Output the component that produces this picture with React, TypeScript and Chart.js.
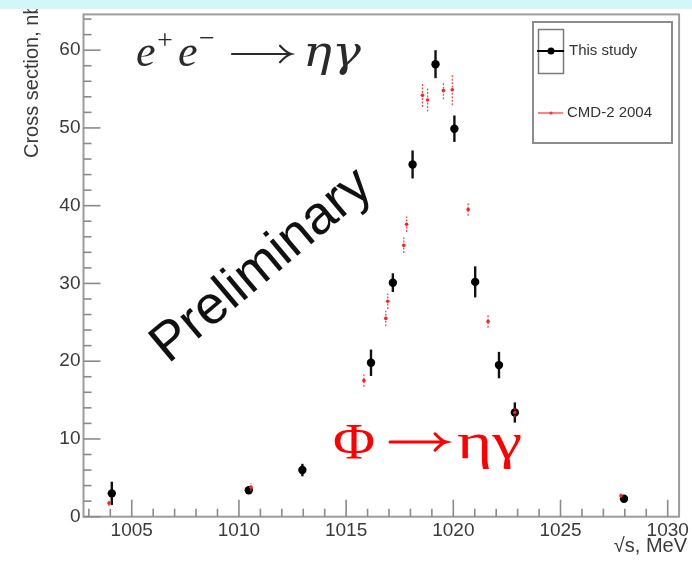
import React, { useEffect, useRef } from 'react';
import { Chart, registerables } from 'chart.js';

Chart.register(...registerables);

// ---- data ----
const studyEnergy = [1004.07, 1010.46, 1012.96, 1016.16, 1017.18, 1018.1, 1019.17, 1020.05, 1021.02, 1022.13, 1022.87, 1027.96];
const studyCross = [3.0, 3.4, 6.0, 19.8, 30.1, 45.3, 58.2, 49.9, 30.2, 19.5, 13.4, 2.3];
const studyErr = [1.5, 0.5, 0.8, 1.7, 1.2, 1.8, 1.8, 1.7, 2.0, 1.7, 1.3, 0.4];

const cmdEnergy = [1003.94, 1010.56, 1015.83, 1016.85, 1016.94, 1017.69, 1017.82, 1018.56, 1018.8, 1019.54, 1019.95, 1020.69, 1021.62, 1022.87, 1027.82];
const cmdCross = [1.75, 3.8, 17.5, 25.5, 27.7, 34.9, 37.6, 54.2, 53.6, 54.8, 54.9, 39.5, 25.1, 13.4, 2.7];
const cmdErr = [0.4, 0.5, 0.8, 1.0, 1.0, 1.0, 1.0, 1.5, 1.5, 1.1, 2.0, 0.8, 0.8, 0.6, 0.3];

const xTickValues = [1005, 1010, 1015, 1020, 1025, 1030];
const yTickValues = [0, 10, 20, 30, 40, 50, 60];
const xMinorStep = 1;
const yMinorStep = 2;
const xRange = [1002.75, 1030.53];
const yRange = [0, 64.6];
const legendLabels = ['This study', 'CMD-2 2004'];
const yTitle = 'Cross section, nb';
const xTitle = '\u221As, MeV';

const SANS = '"Liberation Sans", Arial, sans-serif';
const SERIF = '"Liberation Serif", "DejaVu Serif", serif';
const WSERIF = '"DejaVu Serif", "Liberation Serif", serif';

function drawArrow(ctx: CanvasRenderingContext2D, x1: number, x2: number, y: number, color: string, lw: number, head: number) {
  ctx.save();
  ctx.strokeStyle = color;
  ctx.lineWidth = lw;
  ctx.lineCap = 'round';
  ctx.beginPath();
  ctx.moveTo(x1, y);
  ctx.lineTo(x2, y);
  ctx.moveTo(x2 - head, y - head * 0.75);
  ctx.quadraticCurveTo(x2 - head * 0.4, y - head * 0.1, x2, y);
  ctx.quadraticCurveTo(x2 - head * 0.4, y + head * 0.1, x2 - head, y + head * 0.75);
  ctx.stroke();
  ctx.restore();
}

function stretchedText(ctx: CanvasRenderingContext2D, text: string, x: number, y: number, sx: number) {
  ctx.save();
  ctx.translate(x, y);
  ctx.scale(sx, 1);
  ctx.fillText(text, 0, 0);
  ctx.restore();
}

const errorBarPlugin = {
  id: 'errorBars',
  beforeDatasetDraw(chart: any, args: any) {
    const ds = chart.data.datasets[args.index];
    const errs: number[] = ds.errors;
    if (!errs) return;
    const ctx = chart.ctx;
    const xs = chart.scales.x;
    const ys = chart.scales.y;
    ctx.save();
    ctx.strokeStyle = ds.errColor;
    ctx.lineWidth = ds.errWidth;
    ctx.setLineDash(ds.errDash || []);
    ds.data.forEach((p: any, i: number) => {
      const px = xs.getPixelForValue(p.x);
      ctx.beginPath();
      ctx.moveTo(px, ys.getPixelForValue(p.y - errs[i]));
      ctx.lineTo(px, ys.getPixelForValue(p.y + errs[i]));
      ctx.stroke();
    });
    ctx.restore();
  },
};

const decorPlugin = {
  id: 'decor',
  beforeDatasetsDraw(chart: any) {
    const ctx: CanvasRenderingContext2D = chart.ctx;
    const a = chart.chartArea;
    const xs = chart.scales.x;
    const ys = chart.scales.y;
    ctx.save();
    // frame
    ctx.strokeStyle = '#9c9c9c';
    ctx.lineWidth = 2;
    ctx.strokeRect(a.left, a.top, a.right - a.left, a.bottom - a.top);
    // ticks (inward)
    ctx.strokeStyle = '#8a8a8a';
    ctx.lineWidth = 1.6;
    for (let v = Math.ceil(xRange[0]); v <= xRange[1]; v += xMinorStep) {
      const px = xs.getPixelForValue(v);
      const len = v % 5 === 0 ? 17 : 8;
      ctx.beginPath();
      ctx.moveTo(px, a.bottom);
      ctx.lineTo(px, a.bottom - len);
      ctx.stroke();
    }
    for (let v = yRange[0]; v <= yRange[1]; v += yMinorStep) {
      const py = ys.getPixelForValue(v);
      const len = v % 10 === 0 ? 17 : 8;
      ctx.beginPath();
      ctx.moveTo(a.left, py);
      ctx.lineTo(a.left + len, py);
      ctx.stroke();
    }
    // e+e- -> eta gamma
    ctx.fillStyle = '#2a2a2a';
    ctx.textBaseline = 'alphabetic';
    ctx.textAlign = 'left';
    ctx.font = `italic 44px ${SERIF}`;
    ctx.fillText('e', 136, 66);
    ctx.font = `28px ${SERIF}`;
    ctx.fillText('+', 157, 49);
    ctx.font = `italic 44px ${SERIF}`;
    ctx.fillText('e', 178, 66);
    ctx.font = `28px ${SERIF}`;
    ctx.fillText('\u2212', 199, 47);
    drawArrow(ctx, 232, 291, 54, '#2a2a2a', 2.2, 11);
    ctx.font = `italic 42px ${WSERIF}`;
    stretchedText(ctx, '\u03B7\u03B3', 303, 66, 1.15);

    // Preliminary
    ctx.save();
    ctx.translate(262, 266);
    ctx.rotate(-40 * Math.PI / 180);
    ctx.font = `54px ${SANS}`;
    ctx.fillStyle = '#111';
    ctx.textAlign = 'center';
    ctx.textBaseline = 'middle';
    ctx.fillText('Preliminary', 0, 0);
    ctx.restore();

    // Phi -> eta gamma
    ctx.fillStyle = '#ff0000';
    ctx.font = `50px ${SERIF}`;
    ctx.textAlign = 'left';
    stretchedText(ctx, '\u03A6', 333, 458, 1.15);
    drawArrow(ctx, 390, 446, 442, '#ff0000', 3, 11);
    stretchedText(ctx, '\u03B7\u03B3', 457, 458, 1.35);

    // axis titles
    ctx.fillStyle = '#3a3a3a';
    ctx.font = `20px ${SANS}`;
    ctx.save();
    ctx.translate(32, 158);
    ctx.rotate(-Math.PI / 2);
    ctx.textBaseline = 'middle';
    ctx.textAlign = 'left';
    ctx.fillText(yTitle, 0, 0);
    ctx.restore();
    ctx.textAlign = 'right';
    ctx.textBaseline = 'alphabetic';
    ctx.fillText(xTitle, 687, 552);
    ctx.restore();
  },
  afterDraw(chart: any) {
    const ctx: CanvasRenderingContext2D = chart.ctx;
    ctx.save();
    // legend
    ctx.fillStyle = '#fff';
    ctx.fillRect(533, 22, 139, 121);
    ctx.strokeStyle = '#8c8c8c';
    ctx.lineWidth = 2;
    ctx.strokeRect(533, 22, 139, 121);
    ctx.strokeStyle = '#7a7a7a';
    ctx.lineWidth = 1.5;
    ctx.strokeRect(538.5, 29.5, 25, 44);
    ctx.strokeStyle = '#000';
    ctx.lineWidth = 2;
    ctx.beginPath();
    ctx.moveTo(537, 51);
    ctx.lineTo(564, 51);
    ctx.stroke();
    ctx.fillStyle = '#000';
    ctx.beginPath();
    ctx.arc(551, 51, 3.5, 0, Math.PI * 2);
    ctx.fill();
    ctx.strokeStyle = '#ff3030';
    ctx.lineWidth = 1.2;
    ctx.beginPath();
    ctx.moveTo(538, 113);
    ctx.lineTo(563, 113);
    ctx.stroke();
    ctx.fillStyle = '#ff3030';
    ctx.beginPath();
    ctx.arc(551, 113, 1.6, 0, Math.PI * 2);
    ctx.fill();
    ctx.fillStyle = '#333';
    ctx.font = `15px ${SANS}`;
    ctx.textAlign = 'left';
    ctx.textBaseline = 'middle';
    ctx.fillText(legendLabels[0], 569, 51);
    ctx.fillText(legendLabels[1], 567, 113);
    // top band
    ctx.fillStyle = '#d2f7f9';
    ctx.fillRect(0, 0, 692, 9);
    ctx.restore();
  },
};

export default function App() {
  const ref = useRef<HTMLCanvasElement | null>(null);
  useEffect(() => {
    document.body.style.margin = '0';
    const canvas = ref.current!;
    const chart = new Chart(canvas, {
      type: 'scatter',
      data: {
        datasets: [
          {
            label: legendLabels[0],
            data: studyEnergy.map((e, i) => ({ x: e, y: studyCross[i] })),
            backgroundColor: '#000',
            borderColor: '#000',
            pointRadius: 4.2,
            pointBorderWidth: 0,
            order: 2,
            errors: studyErr,
            errColor: '#111',
            errWidth: 2.4,
          } as any,
          {
            label: legendLabels[1],
            data: cmdEnergy.map((e, i) => ({ x: e, y: cmdCross[i] })),
            backgroundColor: '#ff2020',
            borderColor: '#ff2020',
            pointRadius: 1.8,
            pointBorderWidth: 0,
            order: 1,
            errors: cmdErr,
            errColor: 'rgba(255,40,40,0.85)',
            errWidth: 1.3,
            errDash: [2, 1.5],
          } as any,
        ],
      },
      options: {
        responsive: false,
        animation: false,
        devicePixelRatio: 1,
        layout: { padding: { top: 10, right: 8.5, left: 0, bottom: 0 } },
        plugins: { legend: { display: false }, tooltip: { enabled: false } },
        scales: {
          x: {
            type: 'linear',
            min: xRange[0],
            max: xRange[1],
            grid: { display: false, drawTicks: false },
            border: { display: false },
            afterBuildTicks: (s: any) => { s.ticks = xTickValues.map((v) => ({ value: v })); },
            afterFit: (s: any) => { s.height = 52.3; },
            ticks: { font: { family: SANS, size: 19 }, color: '#3a3a3a', padding: 3, maxRotation: 0, autoSkip: false, callback: (v: any) => String(v) },
          },
          y: {
            type: 'linear',
            min: yRange[0],
            max: yRange[1],
            grid: { display: false, drawTicks: false },
            border: { display: false },
            afterBuildTicks: (s: any) => { s.ticks = yTickValues.map((v) => ({ value: v })); },
            afterFit: (s: any) => { s.width = 83.5; },
            ticks: { font: { family: SANS, size: 19 }, color: '#3a3a3a', padding: 3, autoSkip: false, callback: (v: any) => String(v) },
          },
        },
      },
      plugins: [errorBarPlugin, decorPlugin],
    });
    return () => chart.destroy();
  }, []);
  return (
    <div style={{ position: 'absolute', left: 0, top: 0, width: 692, height: 569, background: '#fff' }}>
      <canvas ref={ref} width={692} height={569} style={{ display: 'block', width: 692, height: 569 }} />
    </div>
  );
}
